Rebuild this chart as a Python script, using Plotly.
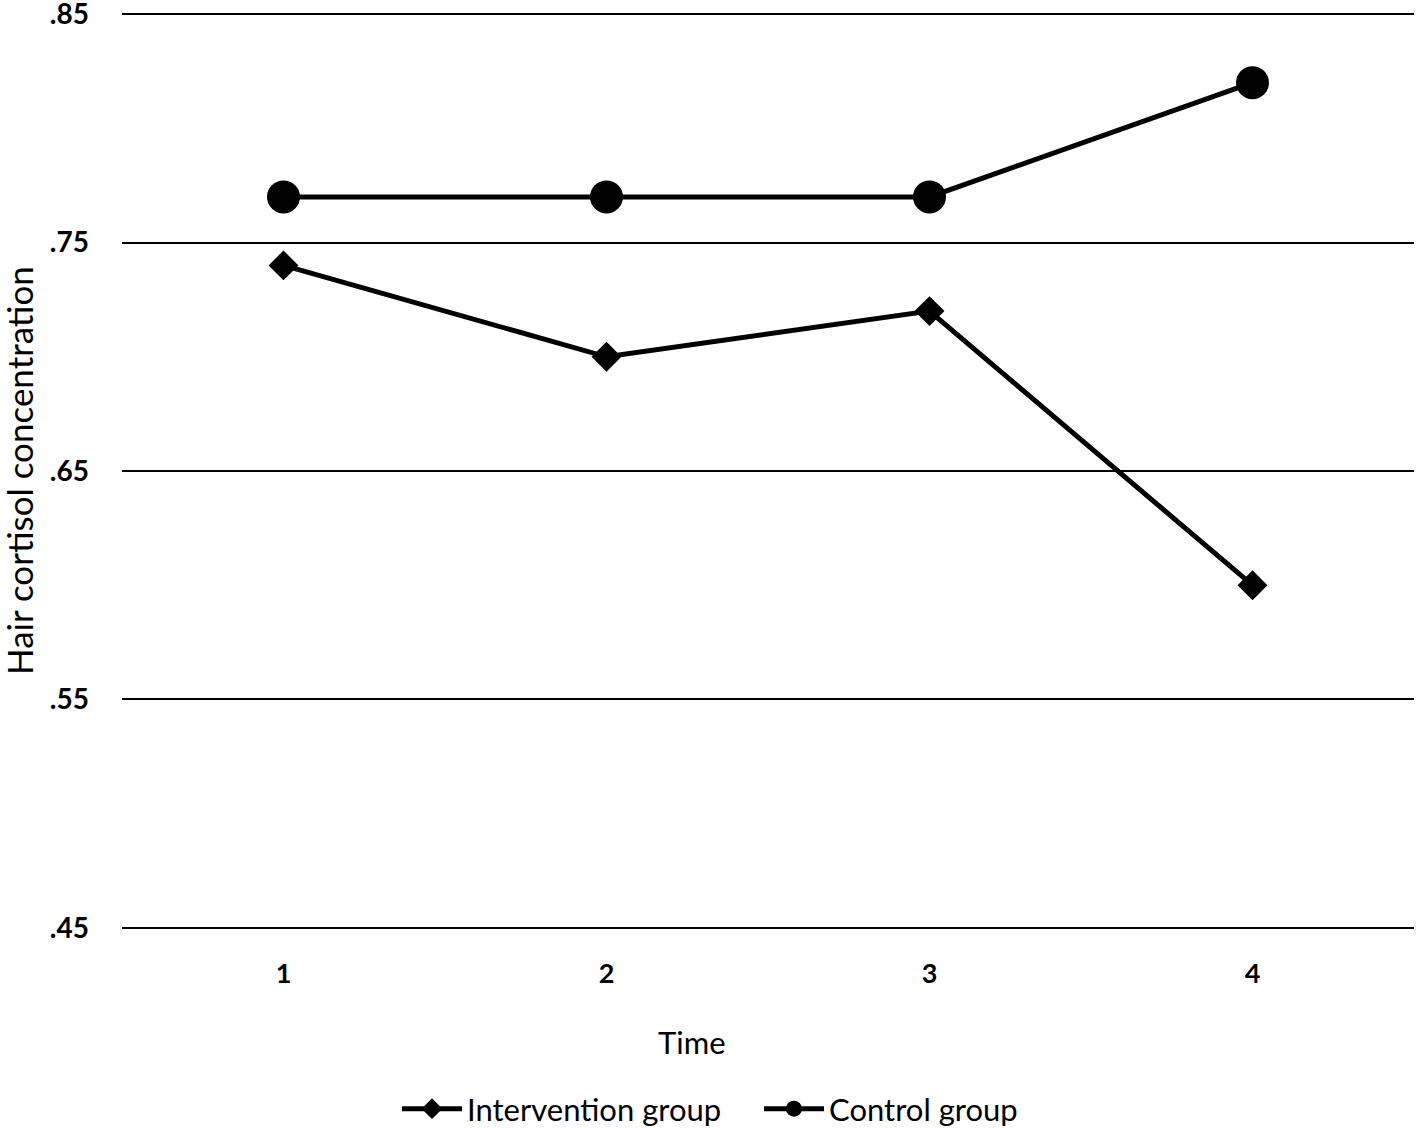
import plotly.graph_objects as go

time_labels = ["1", "2", "3", "4"]
intervention = [0.74, 0.70, 0.72, 0.60]
control = [0.77, 0.77, 0.77, 0.82]
y_ticks = [0.45, 0.55, 0.65, 0.75, 0.85]
y_tick_text = [".45", ".55", ".65", ".75", ".85"]

FONT = "Lato"
W, H = 1418, 1128
L, T = 122, 13
PW, PH = 1292, 916
R = W - L - PW
B = H - T - PH

def px_x(vx):
    return (vx - L) / PW

def px_y(vy):
    return 1 - (vy - T) / PH

fig = go.Figure()
fig.add_trace(go.Scatter(
    x=time_labels, y=intervention, name="Intervention group",
    mode="lines+markers",
    line=dict(color="black", width=5),
    marker=dict(symbol="diamond", size=23, color="black"),
))
fig.add_trace(go.Scatter(
    x=time_labels, y=control, name="Control group",
    mode="lines+markers",
    line=dict(color="black", width=5),
    marker=dict(symbol="circle", size=33, color="black"),
))

fig.update_layout(
    width=W, height=H,
    margin=dict(l=L, r=R, t=T, b=B, autoexpand=False),
    plot_bgcolor="white", paper_bgcolor="white",
    font=dict(family=FONT, color="black", size=24),
    showlegend=True,
    legend=dict(
        orientation="h", x=px_x(397), xanchor="left",
        y=px_y(1109), yanchor="middle",
        font=dict(family=FONT, size=31, color="black"),
        itemwidth=60, entrywidth=287, bgcolor="rgba(0,0,0,0)",
    ),
    annotations=[
        dict(text="Time", xref="paper", yref="paper", x=px_x(692),
             y=px_y(1042), xanchor="center", yanchor="middle",
             showarrow=False, font=dict(family=FONT, size=31, color="black")),
        dict(text="Hair cortisol concentration", xref="paper", yref="paper",
             x=px_x(19), y=0.5, xanchor="center", yanchor="middle",
             textangle=-90, showarrow=False,
             font=dict(family=FONT, size=35, color="black")),
    ],
)

fig.update_xaxes(
    type="category", range=[-0.5, 3.5], automargin=False,
    showgrid=False, showline=False, zeroline=False,
    ticks="", ticklabelstandoff=26,
    tickfont=dict(family=FONT, size=27, color="black", weight="bold"),
)
fig.update_yaxes(
    range=[0.4495, 0.8505], tickvals=y_ticks, ticktext=y_tick_text,
    automargin=False, ticklabeloverflow="allow",
    showgrid=True, gridcolor="black", gridwidth=2,
    showline=False, zeroline=False, ticks="", ticklabelstandoff=32,
    tickfont=dict(family=FONT, size=28, color="black", weight="bold"),
)

fig.write_html("out.html",
               config={"displayModeBar": False},
               post_script="document.body.style.margin='0';"
                           "document.body.style.overflow='hidden';")
